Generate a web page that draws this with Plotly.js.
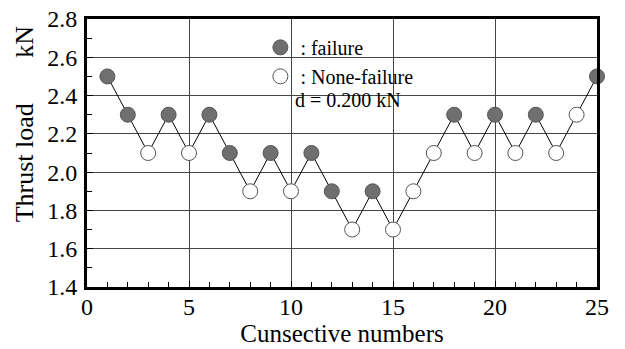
<!DOCTYPE html>
<html>
<head>
<meta charset="utf-8">
<script src="https://cdn.plot.ly/plotly-3.0.1.min.js"></script>
<style>html,body{margin:0;padding:0;background:#fff;}#chart{width:625px;height:349px;}</style>
</head>
<body>
<div id="chart"></div>
<script>
// Sequence numbers and thrust load (kN)
const trialNumbers = [1,2,3,4,5,6,7,8,9,10,11,12,13,14,15,16,17,18,19,20,21,22,23,24,25];
const thrustLoad = [2.5,2.3,2.1,2.3,2.1,2.3,2.1,1.9,2.1,1.9,2.1,1.9,1.7,1.9,1.7,1.9,2.1,2.3,2.1,2.3,2.1,2.3,2.1,2.3,2.5];
// 1 = failure, 0 = none-failure
const outcome = [1,1,0,1,0,1,1,0,1,0,1,1,0,1,0,0,0,1,0,1,0,1,0,0,1];
const seriesNames = [': failure', ': None-failure'];
const stepText = 'd = 0.200 kN';
const xTickVals = [0,5,10,15,20,25];
const yTickVals = [1.4,1.6,1.8,2.0,2.2,2.4,2.6,2.8];

const fx = [], fy = [], nx = [], ny = [];
trialNumbers.forEach((n,i)=>{
  if (outcome[i]===1){fx.push(n);fy.push(thrustLoad[i]);}
  else {nx.push(n);ny.push(thrustLoad[i]);}
});

const FONT = 'Liberation Serif';
const traces = [
  {x: trialNumbers, y: thrustLoad, mode:'lines', line:{color:'#000', width:1}, showlegend:false, hoverinfo:'skip', cliponaxis:false},
  {x: fx, y: fy, mode:'markers', name: seriesNames[0], cliponaxis:false,
   marker:{size:15, color:'#6f6f6f', line:{color:'#555', width:1}}},
  {x: nx, y: ny, mode:'markers', name: seriesNames[1], cliponaxis:false,
   marker:{size:15, color:'#fff', line:{color:'#555', width:1}}}
];

const layout = {
  width:625, height:349,
  margin:{l:87, r:28, t:19, b:62},
  paper_bgcolor:'#fff', plot_bgcolor:'#fff',
  font:{family:FONT, color:'#000', size:24},
  xaxis:{range:[0,25], tickvals:xTickVals, ticks:'inside', ticklen:6, tickcolor:'#000',
    showgrid:true, gridcolor:'#444', gridwidth:1, zeroline:false,
    showline:true, linecolor:'#000', linewidth:3, mirror:true,
    tickfont:{family:FONT, size:24}, ticklabelstandoff:-4,
    minor:{dtick:1, ticks:'inside', ticklen:5, tickcolor:'#000', showgrid:false},
    title:{text:'Cunsective numbers', font:{family:FONT, size:25}, standoff:6}},
  yaxis:{range:[1.4,2.8], tickvals:yTickVals, tickformat:'.1f', ticks:'inside', ticklen:6, tickcolor:'#000',
    showgrid:true, gridcolor:'#444', gridwidth:1, zeroline:false,
    showline:true, linecolor:'#000', linewidth:3, mirror:true,
    tickfont:{family:FONT, size:24}, ticklabelstandoff:2,
    minor:{dtick:0.1, ticks:'inside', ticklen:5, tickcolor:'#000', showgrid:false}},
  showlegend:true,
  legend:{x:0.34, y:0.967, xanchor:'left', yanchor:'top', bgcolor:'rgba(0,0,0,0)',
    font:{family:FONT, size:20}, itemwidth:30, tracegroupgap:0},
  shapes:[{type:'rect', xref:'paper', yref:'paper', x0:0.359, x1:0.649, y0:0.642, y1:0.948,
    fillcolor:'#fff', line:{width:0}, layer:'between'}],
  annotations:[
    {xref:'paper', yref:'paper', x:0.404, y:0.698, xanchor:'left', yanchor:'middle',
     text:stepText, showarrow:false, font:{family:FONT, size:20}},
    {xref:'paper', yref:'paper', x:-0.122, y:0.61, xanchor:'center', yanchor:'middle',
     text:'Thrust load\u00a0\u00a0\u00a0\u00a0\u00a0\u00a0\u00a0kN', textangle:-90, showarrow:false, font:{family:FONT, size:26}}
  ]
};

Plotly.newPlot('chart', traces, layout, {displayModeBar:false, staticPlot:true});
</script>
</body>
</html>
